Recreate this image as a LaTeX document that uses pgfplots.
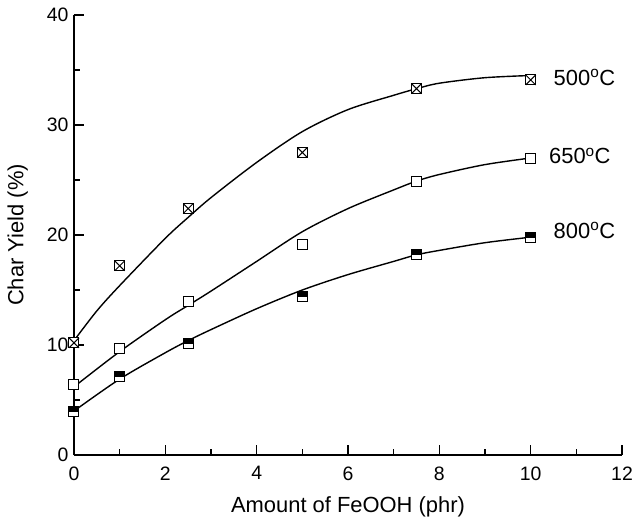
\documentclass[border=0pt]{standalone}
\usepackage{fontspec}
\setmainfont{Liberation Sans}
\usepackage{pgfplots}
\pgfplotsset{compat=1.18}

\makeatletter
\pgfdeclareplotmark{boxx}{%
  \pgfpathrectangle{\pgfpoint{-\pgfplotmarksize}{-\pgfplotmarksize}}{\pgfpoint{2\pgfplotmarksize}{2\pgfplotmarksize}}%
  \pgfusepathqfillstroke
  \pgfpathmoveto{\pgfpoint{-\pgfplotmarksize}{-\pgfplotmarksize}}%
  \pgfpathlineto{\pgfpoint{\pgfplotmarksize}{\pgfplotmarksize}}%
  \pgfpathmoveto{\pgfpoint{-\pgfplotmarksize}{\pgfplotmarksize}}%
  \pgfpathlineto{\pgfpoint{\pgfplotmarksize}{-\pgfplotmarksize}}%
  \pgfusepathqstroke}
\pgfdeclareplotmark{halftop}{%
  \pgfpathrectangle{\pgfpoint{-\pgfplotmarksize}{-\pgfplotmarksize}}{\pgfpoint{2\pgfplotmarksize}{2\pgfplotmarksize}}%
  \pgfsetfillcolor{white}%
  \pgfusepathqfillstroke
  \pgfpathrectangle{\pgfpoint{-\pgfplotmarksize}{0pt}}{\pgfpoint{2\pgfplotmarksize}{\pgfplotmarksize}}%
  \pgfsetfillcolor{black}%
  \pgfusepathqfillstroke}
\makeatother

\begin{document}
\begin{tikzpicture}
\path[use as bounding box] (-74bp,-76bp) rectangle (560bp,455bp);
\begin{axis}[
  scale only axis,
  width=548bp, height=440bp,
  xmin=0, xmax=12, ymin=0, ymax=40,
  axis lines*=left,
  axis line style={line width=1.2bp},
  xtick={0,2,...,12}, ytick={0,10,...,40},
  minor x tick num=1, minor y tick num=1,
  tick align=inside,
  major tick length=10bp, minor tick length=6bp,
  tick style={line width=1.2bp, black},
  /pgf/number format/assume math mode=true,
  ticklabel style={font=\fontsize{19.5}{22}\selectfont},
  xticklabel style={yshift=-8bp},
  yticklabel style={xshift=-2bp},
  label style={font=\fontsize{22}{25}\selectfont},
  xlabel={Amount of FeOOH (phr)},
  ylabel={Char Yield (\%)},
  xlabel style={yshift=-10bp},
  ylabel style={yshift=12bp},
  clip=false,
]
% fitted curves
\addplot[smooth, line width=1.4bp, black, no marks] coordinates {
(0,10.4)(0.5,13.1)(1,15.4)(2,19.7)(2.5,21.6)(3,23.4)(4,26.6)(5,29.4)(6,31.4)(7,32.7)(7.5,33.3)(8,33.8)(9,34.3)(10,34.5)};
\addplot[smooth, line width=1.4bp, black, no marks] coordinates {
(0,6.2)(1,9.4)(2,12.3)(2.5,13.6)(3,14.9)(4,17.6)(5,20.3)(6,22.4)(7,24.1)(7.5,24.9)(8,25.5)(9,26.4)(10,27.0)};
\addplot[smooth, line width=1.4bp, black, no marks] coordinates {
(0,4.0)(1,6.9)(2,9.3)(2.5,10.4)(3,11.4)(4,13.3)(5,15.0)(6,16.4)(7,17.6)(7.5,18.2)(8,18.6)(9,19.3)(10,19.8)};
% data markers
\addplot[only marks, mark=boxx, mark size=5bp, mark options={fill=white, line width=1bp}] coordinates {
(0,10.2)(1,17.2)(2.5,22.4)(5,27.5)(7.5,33.3)(10,34.1)};
\addplot[only marks, mark=square*, mark size=5bp, mark options={fill=white, line width=1bp}] coordinates {
(0,6.4)(1,9.7)(2.5,14.0)(5,19.1)(7.5,24.9)(10,27.0)};
\addplot[only marks, mark=halftop, mark size=5bp, mark options={line width=1bp}] coordinates {
(0,4.0)(1,7.1)(2.5,10.1)(5,14.4)(7.5,18.2)(10,19.8)};
% labels
\node[anchor=west, inner sep=0pt, font=\fontsize{22}{25}\selectfont] at (axis cs:10.5,34.3) {500\textsuperscript{o}C};
\node[anchor=west, inner sep=0pt, font=\fontsize{22}{25}\selectfont] at (axis cs:10.4,27.2) {650\textsuperscript{o}C};
\node[anchor=west, inner sep=0pt, font=\fontsize{22}{25}\selectfont] at (axis cs:10.5,20.4) {800\textsuperscript{o}C};
\end{axis}
\end{tikzpicture}
\end{document}
